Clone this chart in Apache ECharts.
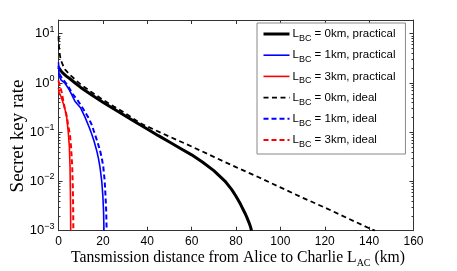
<!DOCTYPE html>
<html><head><meta charset="utf-8">
<script src="https://cdn.jsdelivr.net/npm/echarts@6/dist/echarts.min.js"></script>
<style>html,body{margin:0;padding:0;background:#fff}#c{width:457px;height:271px}</style>
</head><body><div id="c"></div>
<script>
// ---- data ----
const xTicks = [0, 20, 40, 60, 80, 100, 120, 140, 160];
const yTickExps = [-3, -2, -1, 0, 1];
const yMin = 0.001, yMax = 19;

const seriesNames = [
  'L_BC = 0km, practical', 'L_BC = 1km, practical', 'L_BC = 3km, practical',
  'L_BC = 0km, ideal', 'L_BC = 1km, ideal', 'L_BC = 3km, ideal'
];

const bc0PracX = [0, 1, 2, 3.5, 5, 7.5, 10, 15, 20, 25, 30, 35, 40, 45, 50, 55, 60, 65, 70, 75, 78, 80, 82, 84, 85, 86, 86.6, 87];
const bc0PracY = [2.09, 1.78, 1.58, 1.38, 1.23, 1.0, 0.813, 0.569, 0.407, 0.295, 0.216, 0.158, 0.116, 0.0851, 0.0631, 0.0468, 0.0347, 0.0245, 0.0166, 0.0102, 0.00692, 0.00501, 0.00347, 0.00229, 0.00182, 0.00141, 0.00117, 0.001];

const bc1PracX = [0, 0.3, 1, 2, 3, 5, 7.4, 10, 12, 14, 15, 16, 17.2, 18, 18.7, 19.5, 20, 20.3, 20.5];
const bc1PracY = [2.63, 1.41, 1.17, 1.07, 0.977, 0.708, 0.427, 0.309, 0.200, 0.120, 0.0912, 0.0661, 0.0427, 0.0295, 0.0195, 0.0100, 0.00501, 0.00251, 0.001];

const bc3PracX = [0, 0.3, 1.1, 2.2, 3, 3.7, 4.4, 4.9, 5.2, 5.35, 5.45, 5.5];
const bc3PracY = [0.79, 0.63, 0.537, 0.380, 0.282, 0.200, 0.100, 0.0501, 0.0200, 0.00631, 0.00251, 0.001];

const bc0IdealX = [0, 0.2, 0.5, 1, 2, 3, 5, 10, 15, 20, 25, 30, 37, 50, 60, 70, 80, 90, 100, 110, 120, 130, 140, 142.6];
const bc0IdealY = [8.91, 5.62, 3.98, 2.95, 2.29, 1.86, 1.48, 0.933, 0.646, 0.457, 0.331, 0.245, 0.151, 0.0813, 0.0513, 0.0316, 0.0195, 0.0123, 0.00759, 0.00468, 0.00295, 0.00182, 0.00112, 0.001];

const bc1IdealX = [0, 0.5, 1.5, 3.8, 6.5, 8.9, 11, 13.4, 15, 16.4, 17.6, 18.7, 19.5, 20.2, 20.8, 21.2, 21.5, 21.7];
const bc1IdealY = [2.24, 1.51, 1.26, 0.933, 0.589, 0.427, 0.302, 0.200, 0.141, 0.0912, 0.0631, 0.0427, 0.0302, 0.0195, 0.0105, 0.00501, 0.00251, 0.001];

const bc3IdealX = [0, 0.5, 1.4, 2.6, 3.7, 4.4, 5.2, 5.6, 5.9, 6.2, 6.45, 6.6, 6.7];
const bc3IdealY = [1.12, 0.891, 0.661, 0.339, 0.214, 0.135, 0.0851, 0.0537, 0.0331, 0.0195, 0.00794, 0.00316, 0.001];

// ---- build ----
const zip = (xs, ys) => xs.map((x, i) => [x, ys[i]]);
const majorY = yTickExps.map(e => Math.pow(10, e));
const minorY = [];
yTickExps.forEach(e => { for (let k = 2; k <= 9; k++) { const v = k * Math.pow(10, e); if (v <= yMax) minorY.push(v); } });

const seriesDefs = [
  { x: bc0PracX, y: bc0PracY, color: '#000', width: 3, dash: 'solid' },
  { x: bc1PracX, y: bc1PracY, color: '#0000ff', width: 1.6, dash: 'solid' },
  { x: bc3PracX, y: bc3PracY, color: '#ff0000', width: 1.6, dash: 'solid' },
  { x: bc0IdealX, y: bc0IdealY, color: '#000', width: 1.8, dash: [5, 3.5] },
  { x: bc1IdealX, y: bc1IdealY, color: '#0000ff', width: 2, dash: [5, 3] },
  { x: bc3IdealX, y: bc3IdealY, color: '#ff0000', width: 2, dash: [5, 3] }
];

const axisCol = '#333';
const sans = 'Liberation Sans';
const supFmt = v => { const e = Math.round(Math.log10(v)); return '10{sup|' + (e < 0 ? '\u2212' + (-e) : e) + '}'; };

const logAxisBase = { type: 'log', logBase: 10, min: yMin, max: yMax, splitLine: { show: false } };

const chart = echarts.init(document.getElementById('c'), null, { renderer: 'canvas' });
chart.setOption({
  animation: false,
  backgroundColor: '#fff',
  grid: { left: 58.5, right: 43.5, top: 20, bottom: 40.3, containLabel: false },
  xAxis: [
    { type: 'value', min: xTicks[0], max: xTicks[xTicks.length - 1], interval: 20, position: 'bottom',
      axisLine: { show: true, lineStyle: { color: axisCol, width: 1 } },
      axisTick: { show: true, inside: true, length: 4, lineStyle: { color: axisCol } },
      axisLabel: { show: true, margin: 5, fontFamily: sans, fontSize: 12, color: '#000' },
      splitLine: { show: false } },
    { type: 'value', min: xTicks[0], max: xTicks[xTicks.length - 1], interval: 20, position: 'top',
      axisLine: { show: true, lineStyle: { color: axisCol, width: 1 } },
      axisTick: { show: true, inside: true, length: 4, lineStyle: { color: axisCol } },
      axisLabel: { show: false }, splitLine: { show: false } }
  ],
  yAxis: [
    Object.assign({}, logAxisBase, { position: 'left',
      axisLine: { show: true, lineStyle: { color: axisCol, width: 1 } },
      axisTick: { show: true, inside: true, length: 4, customValues: majorY, lineStyle: { color: axisCol } },
      axisLabel: { show: true, margin: 4, customValues: majorY, formatter: supFmt, fontFamily: sans, fontSize: 13, color: '#000',
        rich: { sup: { fontFamily: sans, fontSize: 9, color: '#000', padding: [0, 0, 9, 0] } } } }),
    Object.assign({}, logAxisBase, { position: 'left',
      axisLine: { show: false },
      axisTick: { show: true, inside: true, length: 2, customValues: minorY, lineStyle: { color: axisCol } },
      axisLabel: { show: false } }),
    Object.assign({}, logAxisBase, { position: 'right',
      axisLine: { show: true, lineStyle: { color: axisCol, width: 1 } },
      axisTick: { show: true, inside: true, length: 4, customValues: majorY, lineStyle: { color: axisCol } },
      axisLabel: { show: false } }),
    Object.assign({}, logAxisBase, { position: 'right',
      axisLine: { show: false },
      axisTick: { show: true, inside: true, length: 2, customValues: minorY, lineStyle: { color: axisCol } },
      axisLabel: { show: false } })
  ],
  legend: {
    orient: 'vertical', left: 257, top: 23, width: 147,
    padding: [5, 10, 5, 5], itemGap: 6.2, itemWidth: 26, itemHeight: 12,
    backgroundColor: '#fff', borderColor: '#888', borderWidth: 1,
    data: seriesNames.map((n, i) => ({ name: n, lineStyle: { width: seriesDefs[i].width } })),
    itemStyle: { opacity: 0, color: 'transparent', borderWidth: 0 },
    formatter: n => n.replace('L_BC', 'L{sub|BC}'),
    textStyle: { fontFamily: sans, fontSize: 11.5, color: '#000', padding: [0, 0, 0, -2],
      rich: { sub: { fontFamily: sans, fontSize: 9, color: '#000', padding: [9, 0, 0, 0] } } }
  },
  graphic: [
    { type: 'text', x: 18.5, y: 136, rotation: Math.PI / 2,
      style: { text: 'Secret key rate', font: '19px "Liberation Serif"', fill: '#000', align: 'center', verticalAlign: 'middle' } },
    { type: 'text', x: 238, y: 258,
      style: { text: 'Tansmission distance from Alice to Charlie L{sub|AC} (km)', font: '15.7px "Liberation Serif"', fill: '#000',
        align: 'center', verticalAlign: 'middle',
        rich: { sub: { font: '10px "Liberation Serif"', fill: '#000', padding: [10, 0, 0, 0] } } } }
  ],
  series: seriesDefs.map((d, i) => ({
    name: seriesNames[i], type: 'line', xAxisIndex: 0, yAxisIndex: 0,
    data: zip(d.x, d.y), showSymbol: false, symbol: 'none', smooth: false,
    clip: true, color: d.color,
    lineStyle: { color: d.color, width: d.width, type: d.dash }
  }))
});
</script></body></html>
